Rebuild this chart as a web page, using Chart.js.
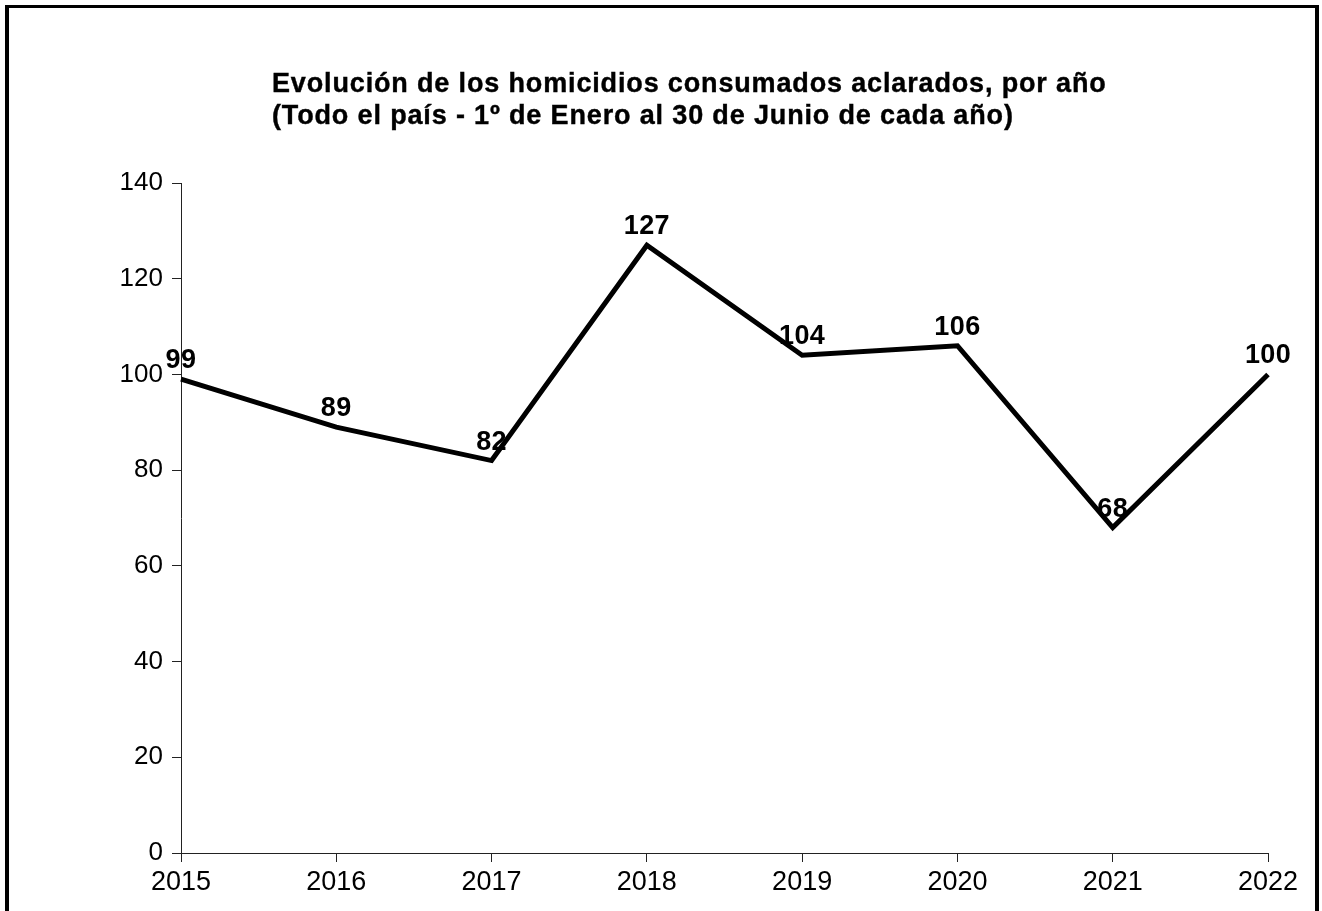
<!DOCTYPE html>
<html>
<head>
<meta charset="utf-8">
<script src="https://cdn.jsdelivr.net/npm/chart.js@4"></script>
<style>
  html, body { margin: 0; padding: 0; background: #fff; overflow: hidden; }
  #wrap { position: relative; width: 1322px; height: 911px; }
  #frame {
    position: absolute; left: 5px; top: 5px; width: 1314px; height: 1000px;
    box-sizing: border-box; border: 3px solid #000; border-left-width: 4px; border-right-width: 4px;
    pointer-events: none;
  }
</style>
</head>
<body>
<div id="wrap">
  <canvas id="chart" width="1322" height="911"></canvas>
  <div id="frame"></div>
</div>
<script>
// Dados do gráfico
const years = ["2015", "2016", "2017", "2018", "2019", "2020", "2021", "2022"];
const homicides = [99, 89, 82, 127, 104, 106, 68, 100];
const titleLines = [
  "Evolución de los homicidios consumados aclarados, por año",
  "(Todo el país - 1º de Enero al 30 de Junio de cada año)",
];

const FONT = "'Liberation Sans', Arial, sans-serif";

// Título desenhado à esquerda, como no original
const titlePlugin = {
  id: "leftTitle",
  afterDraw(chart) {
    const ctx = chart.ctx;
    ctx.save();
    ctx.fillStyle = "#000";
    ctx.strokeStyle = "#000";
    ctx.lineWidth = 0.4;
    ctx.font = "bold 27px " + FONT;
    ctx.letterSpacing = "0.85px";
    ctx.textAlign = "left";
    ctx.textBaseline = "alphabetic";
    titleLines.forEach((line, i) => {
      ctx.fillText(line, 272, 92 + i * 32);
      ctx.strokeText(line, 272, 92 + i * 32);
    });
    ctx.restore();
  },
};

// Rótulos de valor acima de cada ponto
const valueLabels = {
  id: "valueLabels",
  afterDatasetsDraw(chart) {
    const ctx = chart.ctx;
    const meta = chart.getDatasetMeta(0);
    ctx.save();
    ctx.fillStyle = "#000";
    ctx.font = "bold 27px " + FONT;
    ctx.letterSpacing = "0.4px";
    ctx.textAlign = "center";
    ctx.textBaseline = "alphabetic";
    meta.data.forEach((pt, i) => {
      ctx.fillText(String(homicides[i]), pt.x, pt.y - 11);
    });
    ctx.restore();
  },
};

const ctx = document.getElementById("chart").getContext("2d");
new Chart(ctx, {
  type: "line",
  data: {
    labels: years,
    datasets: [
      {
        data: homicides,
        borderColor: "#000",
        borderWidth: 5,
        borderJoinStyle: "miter",
        pointRadius: 0,
        tension: 0,
        fill: false,
      },
    ],
  },
  options: {
    responsive: false,
    animation: false,
    layout: { padding: { top: 183, right: 54, left: 0, bottom: 0 } },
    plugins: {
      legend: { display: false },
      title: { display: false },
      tooltip: { enabled: false },
    },
    scales: {
      x: {
        offset: false,
        grid: { drawOnChartArea: false, drawTicks: true, tickLength: 9, color: "#222" },
        border: { display: true, color: "#222", width: 1 },
        ticks: { color: "#000", font: { family: FONT, size: 27 }, padding: 4, maxRotation: 0 },
        afterFit(scale) { scale.height = 58; },
      },
      y: {
        min: 0,
        max: 140,
        ticks: { stepSize: 20, color: "#000", font: { family: FONT, size: 26 }, padding: 9 },
        grid: { drawOnChartArea: false, drawTicks: true, tickLength: 9, color: "#222" },
        border: { display: true, color: "#222", width: 1 },
        afterFit(scale) { scale.width = 181; },
      },
    },
  },
  plugins: [titlePlugin, valueLabels],
});
</script>
</body>
</html>
